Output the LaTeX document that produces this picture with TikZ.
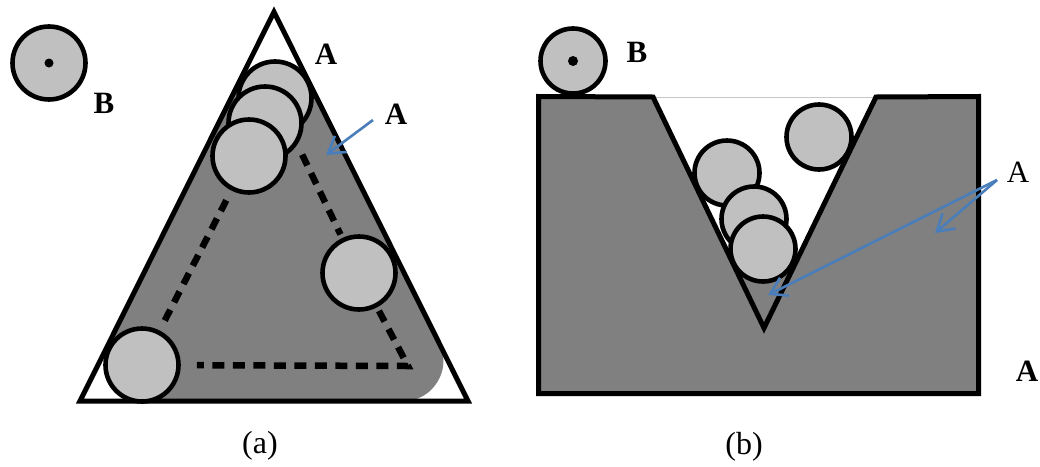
\documentclass[tikz,border=0pt]{standalone}
\usepackage{fontspec}
\setmainfont{Liberation Serif}
\usetikzlibrary{arrows.meta}
\definecolor{ballgray}{RGB}{192,192,192}
\definecolor{fillgray}{RGB}{128,128,128}
\definecolor{linkblue}{RGB}{74,126,187}

\begin{document}
\begin{tikzpicture}[
    x=1pt, y=-1pt,
    ball/.style={circle, draw, line width=4.6pt, fill=ballgray, inner sep=0pt, minimum size=73pt},
    smallball/.style={ball, minimum size=65pt},
    wall/.style={line width=5pt, line join=miter},
    track/.style={line width=6.5pt, dash pattern=on 12pt off 8.5pt},
    lbl/.style={inner sep=1pt, font=\fontsize{31}{36}\selectfont\bfseries},
    plainlbl/.style={inner sep=1pt, font=\fontsize{31}{36}\selectfont},
    panelcap/.style={inner sep=1pt, font=\fontsize{32}{38}\selectfont},
    arr/.style={-{Straight Barb[length=16pt, width=20pt]}, linkblue, line width=2.6pt},
  ]
    \useasboundingbox (0,0) rectangle (1040,466);

    \coordinate (ta) at (274,12);
    \coordinate (tl) at (80,401);
    \coordinate (tr) at (468,401);
    \filldraw[fillgray, line width=80pt, line join=round] (274,101.6) -- (403.3,361) -- (144.7,361) -- cycle;
    \draw[wall] (ta) -- (tr) -- (tl) -- cycle;

    \node[ball] (bt) at (275,98) {};
    \node[ball] (bm) at (265,123) {};
    \node[ball] (b3) at (249,156) {};
    \node[ball] (br) at (359,273) {};
    \node[ball] (bl) at (142,365) {};
    \coordinate (tc) at (408,366);
    \draw[track, shorten <=11pt, shorten >=11pt] (b3) -- (bl);
    \draw[track, shorten <=24pt, shorten >=4pt] (bt) -- (br);
    \draw[track, shorten <=4pt, shorten >=16pt] (br) -- (tc) -- (bl);

    \node[ball] (ba) at (49,63) {};
    \fill (ba) circle[radius=4.5];
    \node[lbl] (lb1) at (104,103) {B};
    \node[lbl] (la1) at (326,54) {A};
    \node[lbl] (la2) at (396,114) {A};
    \coordinate (sa) at (373,120);
    \coordinate (ha) at (326,155);
    \draw[arr] (sa) -- (ha);
    \node[panelcap] (ca) at (260,446) {(a)};

    \coordinate (vl) at (653,97);
    \coordinate (vr) at (876,97);
    \coordinate (vb) at (764,328);
    \fill[fillgray] (732,262) -- (796,262) -- (vb) -- cycle;
    \draw[gray!45, line width=1pt] (vl) -- (vr);
    \filldraw[wall, fill=fillgray] (vl) -- (538.5,96.5) -- (538.5,393.5) -- (978.5,393.5) -- (978.5,96.5) -- (vr) -- (vb) -- cycle;

    \node[smallball] (bk) at (573,61) {};
    \fill (bk) circle[radius=5];
    \node[smallball] (c1) at (727,173) {};
    \node[smallball] (c2) at (754,219) {};
    \node[smallball] (c3) at (763,249) {};
    \node[smallball] (c4) at (819,137) {};

    \node[lbl] (lb2) at (637,52) {B};
    \node[plainlbl] (la3) at (1018,172) {A};
    \node[lbl] (la4) at (1027,371) {A};
    \coordinate (sb) at (997,180);
    \coordinate (hb1) at (935,233);
    \coordinate (hb2) at (768,295);
    \draw[arr] (sb) -- (hb1);
    \draw[arr] (sb) -- (hb2);
    \node[panelcap] (cb) at (744,447) {(b)};
  \end{tikzpicture}
\end{document}
